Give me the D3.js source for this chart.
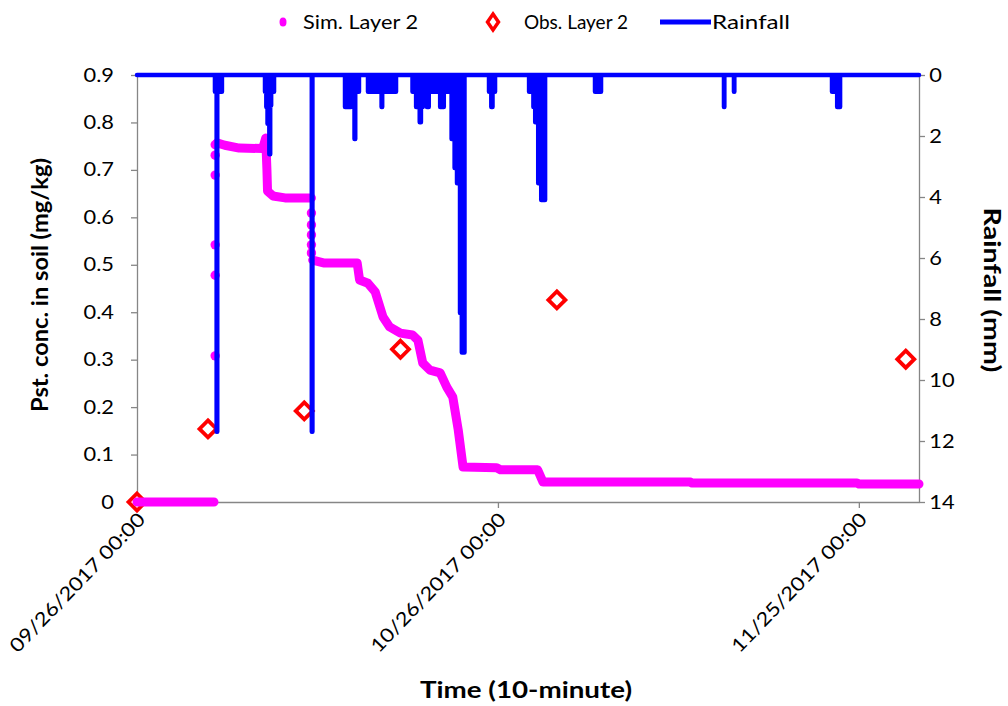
<!DOCTYPE html>
<html>
<head>
<meta charset="utf-8">
<script src="https://cdn.jsdelivr.net/npm/d3@7"></script>
<style>
  body { margin: 0; background: #fff; }
  text { font-family: Lato, "Liberation Sans", sans-serif; fill: #000; }
</style>
</head>
<body>
<svg id="chart" width="1008" height="706"></svg>
<script>
// ---- data (time in days since 09/26/2017 00:00) ----
const startDate = "2017-09-26";
const endDate = "2017-11-30";
const xTickDates = ["2017-09-26", "2017-10-26", "2017-11-25"];
const concTicks = [0, 0.1, 0.2, 0.3, 0.4, 0.5, 0.6, 0.7, 0.8, 0.9];
const rainTicks = [0, 2, 4, 6, 8, 10, 12, 14];

// simulated layer 2, continuous runs (null breaks the run)
const simLine = [
  [0, 0], [6.4, 0], null,
  [6.65, 0.757], [7.3, 0.752], [8.5, 0.746], [10.45, 0.745], [10.7, 0.767],
  [10.8, 0.70], [10.85, 0.655], [11.3, 0.645], [12.3, 0.641], [14.5, 0.641], null,
  [14.6, 0.51], [15.5, 0.504], [18.3, 0.504], [18.5, 0.468], [19.2, 0.461],
  [19.8, 0.443], [20.45, 0.39], [21.0, 0.369], [21.9, 0.356], [22.9, 0.352],
  [23.35, 0.341], [23.75, 0.293], [24.35, 0.278], [25.2, 0.272], [25.75, 0.242],
  [26.25, 0.221], [26.7, 0.152], [27.1, 0.074], [29.9, 0.072], [30.2, 0.068],
  [33.3, 0.068], [33.75, 0.042], [46.0, 0.042], [46.1, 0.040], [59.85, 0.040],
  [60.0, 0.038], [65.0, 0.038]
];
// isolated simulated points during the fast jumps
const simJumpDots = [
  [6.5, 0.308], [6.5, 0.478], [6.5, 0.542], [6.5, 0.689], [6.5, 0.731], [6.5, 0.753],
  [14.5, 0.609], [14.5, 0.584], [14.5, 0.563], [14.5, 0.542], [14.5, 0.525]
];
const obsLayer2 = [
  [0, 0], [5.9, 0.154], [13.9, 0.192], [21.9, 0.322], [34.9, 0.426], [63.9, 0.301]
];
// rainfall (mm per 10 minutes); each value holds until the next entry
const rainfall = [
  [0, 0],
  [6.48, 0.55], [6.62, 11.7], [6.67, 0.55], [7.06, 0],
  [10.64, 0.55], [10.75, 1.05], [10.85, 1.6], [11.0, 2.6], [11.07, 1.0], [11.15, 0.55], [11.39, 0],
  [14.53, 11.7], [14.58, 0],
  [17.29, 1.05], [17.79, 0.55], [18.08, 2.1], [18.14, 0.55], [18.45, 0],
  [19.2, 0.55], [20.33, 1.05], [20.38, 0.55], [21.53, 0],
  [22.9, 0.55], [23.2, 1.05], [23.5, 1.55], [23.6, 1.05], [23.75, 0.55], [24.1, 1.05], [24.25, 0.55],
  [25.2, 1.05], [25.5, 0.55], [26.15, 2.1], [26.4, 3.05], [26.6, 3.55], [26.85, 7.8], [27.0, 9.1], [27.22, 0],
  [29.26, 0.55], [29.45, 1.05], [29.55, 0.55], [29.76, 0],
  [32.59, 0.55], [32.95, 1.05], [33.1, 1.55], [33.35, 3.55], [33.6, 4.1], [33.92, 0],
  [38.07, 0.55], [38.25, 0.4], [38.4, 0.55], [38.57, 0],
  [48.79, 1.05], [48.82, 0],
  [49.62, 0.55], [49.65, 0],
  [57.77, 0.55], [58.2, 1.05], [58.44, 0],
  [65, 0]
];

// ---- layout ----
const svg = d3.select("#chart");
const margin = { left: 137, right: 919, top: 75, bottom: 502 };
const axisColor = "#868686";
const parse = d3.utcParse("%Y-%m-%d");
const t0 = parse(startDate);
const toDate = d => new Date(t0.getTime() + d * 864e5);

const x = d3.scaleUtc().domain([t0, parse(endDate)]).range([margin.left, margin.right]);
const y = d3.scaleLinear().domain([0, 0.9]).range([margin.bottom, margin.top]);
const yRain = d3.scaleLinear().domain([0, 14]).range([margin.top, margin.bottom]);

// axes
const yAxis = svg.append("g")
  .attr("transform", `translate(${margin.left},0)`)
  .call(d3.axisLeft(y).tickValues(concTicks).tickSize(6).tickSizeOuter(0)
    .tickFormat(d => d === 0 ? "0" : d3.format(".1f")(d)));

const rAxis = svg.append("g")
  .attr("transform", `translate(${margin.right},0)`)
  .call(d3.axisRight(yRain).tickValues(rainTicks).tickSize(6).tickSizeOuter(0));

const xAxis = svg.append("g")
  .attr("transform", `translate(0,${margin.bottom})`)
  .call(d3.axisBottom(x).tickValues(xTickDates.map(parse)).tickSize(6).tickSizeOuter(0)
    .tickFormat(d3.utcFormat("%m/%d/%Y %H:%M")));

[yAxis, rAxis, xAxis].forEach(g => {
  g.select(".domain").attr("stroke", axisColor).attr("stroke-width", 1.3);
  g.selectAll(".tick line").attr("stroke", axisColor).attr("stroke-width", 1.3);
  g.selectAll("text").style("font-size", "19px").attr("fill", "#000");
});
yAxis.selectAll(".tick text").attr("x", -20).attr("transform", "scale(1.15,1)");
rAxis.selectAll(".tick text").attr("x", 9).attr("transform", "scale(1.15,1)");
xAxis.selectAll(".tick text")
  .attr("text-anchor", "end")
  .attr("x", 0).attr("y", 0).attr("dy", "0.35em")
  .attr("transform", "translate(4,14) rotate(-46)")
  .attr("textLength", 185).attr("lengthAdjust", "spacingAndGlyphs");

// observed (diamonds)
const diamond = "M0,-8.5L8.5,0L0,8.5L-8.5,0Z";
svg.append("g").selectAll("path")
  .data(obsLayer2)
  .enter()
  .append("path")
  .attr("d", diamond)
  .attr("transform", d => `translate(${x(toDate(d[0]))},${y(d[1])})`)
  .attr("fill", "#fff")
  .attr("stroke", "#ff0000")
  .attr("stroke-width", 3.8);

// simulated
const simPath = d3.line()
  .defined(d => d !== null)
  .x(d => x(toDate(d[0])))
  .y(d => y(d[1]));
svg.append("path")
  .datum(simLine)
  .attr("d", simPath)
  .attr("fill", "none")
  .attr("stroke", "#ff00ff")
  .attr("stroke-width", 9)
  .attr("stroke-linecap", "round")
  .attr("stroke-linejoin", "round");
svg.append("g").selectAll("circle")
  .data(simJumpDots)
  .enter()
  .append("circle")
  .attr("cx", d => x(toDate(d[0])))
  .attr("cy", d => y(d[1]))
  .attr("r", 4.7)
  .attr("fill", "#ff00ff");

// rainfall (inverted secondary axis)
const rainArea = d3.area()
  .curve(d3.curveStepAfter)
  .x(d => x(toDate(d[0])))
  .y0(yRain(0))
  .y1(d => yRain(d[1]));
svg.append("path")
  .datum(rainfall)
  .attr("d", rainArea)
  .attr("fill", "#0000ff")
  .attr("stroke", "#0000ff")
  .attr("stroke-width", 4.5)
  .attr("stroke-linejoin", "round")
  .attr("stroke-linecap", "round");

// axis titles
svg.append("text")
  .attr("transform", "translate(48,285) rotate(-90)")
  .attr("text-anchor", "middle")
  .style("font-size", "23px").style("font-weight", "bold")
  .attr("textLength", 254).attr("lengthAdjust", "spacingAndGlyphs")
  .text("Pst. conc. in soil (mg/kg)");
svg.append("text")
  .attr("transform", "translate(984,290) rotate(90)")
  .attr("text-anchor", "middle")
  .style("font-size", "23px").style("font-weight", "bold")
  .attr("textLength", 165).attr("lengthAdjust", "spacingAndGlyphs")
  .text("Rainfall (mm)");
svg.append("text")
  .attr("x", 526).attr("y", 698)
  .attr("text-anchor", "middle")
  .style("font-size", "23px").style("font-weight", "bold")
  .attr("textLength", 212).attr("lengthAdjust", "spacingAndGlyphs")
  .text("Time (10-minute)");

// legend
const legend = svg.append("g");
legend.append("ellipse").attr("cx", 283).attr("cy", 22).attr("rx", 3.5).attr("ry", 4.5).attr("fill", "#ff00ff");
legend.append("text").attr("x", 303).attr("y", 29).style("font-size", "20px")
  .attr("textLength", 115).attr("lengthAdjust", "spacingAndGlyphs").text("Sim. Layer 2");
legend.append("path").attr("d", "M0,-8L5.5,0L0,8L-5.5,0Z")
  .attr("transform", "translate(493,22)")
  .attr("fill", "#fff").attr("stroke", "#ff0000").attr("stroke-width", 3.5);
legend.append("text").attr("x", 524).attr("y", 29).style("font-size", "20px")
  .attr("textLength", 104).attr("lengthAdjust", "spacingAndGlyphs").text("Obs. Layer 2");
legend.append("line").attr("x1", 660).attr("x2", 711).attr("y1", 22).attr("y2", 22)
  .attr("stroke", "#0000ff").attr("stroke-width", 5);
legend.append("text").attr("x", 712).attr("y", 29).style("font-size", "20px")
  .attr("textLength", 78).attr("lengthAdjust", "spacingAndGlyphs").text("Rainfall");
</script>
</body>
</html>
